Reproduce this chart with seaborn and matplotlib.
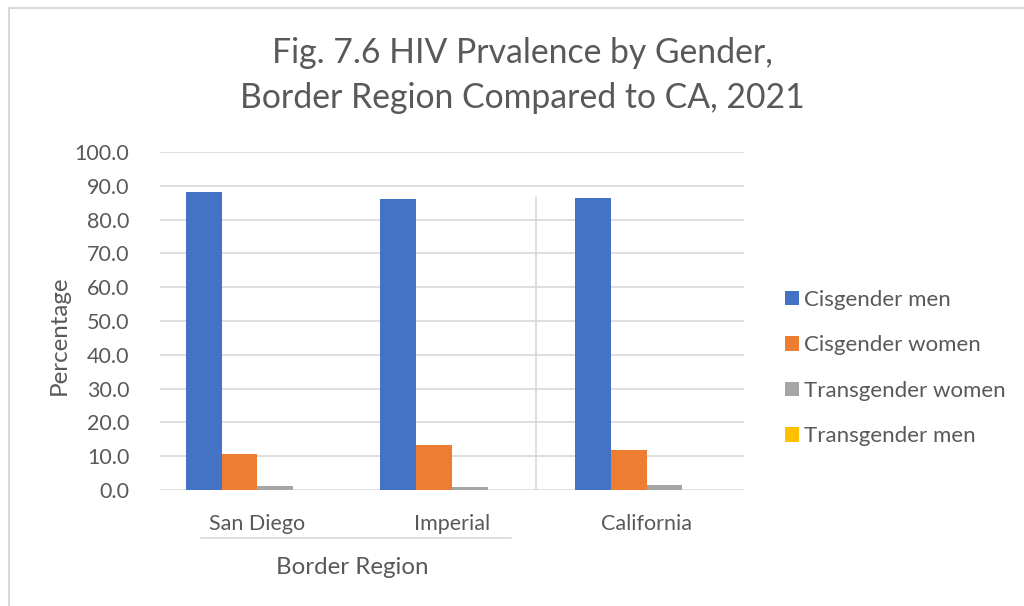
import pandas as pd
import matplotlib.pyplot as plt
import seaborn as sns
from matplotlib import transforms
from matplotlib.patches import Rectangle


regions = ['San Diego', 'Imperial', 'California']
genders = ['Cisgender men', 'Cisgender women', 'Transgender women', 'Transgender men']
cis_men = [88.1, 86.0, 86.5]
cis_women = [10.6, 13.3, 11.8]
trans_women = [1.3, 0.8, 1.6]
trans_men = [0.0, 0.0, 0.0]
yticks = [0, 10, 20, 30, 40, 50, 60, 70, 80, 90, 100]
colors = ['#4472C4', '#ED7D31', '#A5A5A5', '#FFC000']
txt = '#595959'

rows = []
for g, vals in zip(genders, [cis_men, cis_women, trans_women, trans_men]):
    for r, v in zip(regions, vals):
        rows.append({'region': r, 'gender': g, 'pct': v})
df = pd.DataFrame(rows)

sns.set_style('white')
plt.rcParams['font.family'] = ['Lato', 'DejaVu Sans']

fig = plt.figure(figsize=(10.24, 6.06), dpi=100)
ax = fig.add_axes([160/1024, 1-490/606, 584/1024, 338/606])

sns.barplot(data=df, x='region', y='pct', hue='gender', order=regions,
            hue_order=genders, palette=colors, width=0.735, gap=0,
            saturation=1, linewidth=0, ax=ax)

ax.set_ylim(0, 100)
ax.set_xlim(-0.5, 2.5)
ax.set_yticks(yticks)
ax.set_yticklabels(['%.1f' % t for t in yticks])
ax.yaxis.grid(True, color='#D9D9D9', linewidth=1.2)
ax.set_axisbelow(True)
for s in ax.spines.values():
    s.set_visible(False)
ax.tick_params(axis='y', length=0, pad=22, labelsize=15.5, labelcolor=txt)
ax.tick_params(axis='x', length=0, pad=17, labelsize=15.5, labelcolor=txt)
ax.set_xlabel('')
ax.set_ylabel('Percentage', fontsize=17.4, color=txt)
ax.yaxis.set_label_coords(-0.154, 0.459)

# separator line next to California
ax.plot([1.434, 1.434], [0, 86.6], color='#D9D9D9', linewidth=1.2, zorder=0)

# second level of the category axis
trans = transforms.blended_transform_factory(ax.transData, ax.transAxes)
ax.plot([-0.289, 1.303], [-0.142, -0.142], color='#D9D9D9', linewidth=1.2,
        transform=trans, clip_on=False)
ax.text(0.49, -0.228, 'Border Region', transform=trans, ha='center',
        va='center', fontsize=17.4, color=txt)

handles, labels = ax.get_legend_handles_labels()
ax.legend_.remove()
fig.legend(handles, labels, loc='center left', bbox_to_anchor=(776/1024, 1-368/606),
           frameon=False, fontsize=16, labelcolor=txt, handlelength=0.63,
           handleheight=0.63, handletextpad=0.25, labelspacing=1.15,
           borderaxespad=0)

fig.text(522/1024, 1-53/606, 'Fig. 7.6 HIV Prvalence by Gender,', ha='center',
         va='center', fontsize=24.3, color=txt)
fig.text(522/1024, 1-98/606, 'Border Region Compared to CA, 2021', ha='center',
         va='center', fontsize=24.3, color=txt)

# chart frame
fig.patches.append(Rectangle((9/1024, -0.1), 1.1, 1-8/606+0.1, transform=fig.transFigure,
                             fill=False, edgecolor='#D9D9D9', linewidth=1.5))

fig.savefig('out.png', dpi=100)
